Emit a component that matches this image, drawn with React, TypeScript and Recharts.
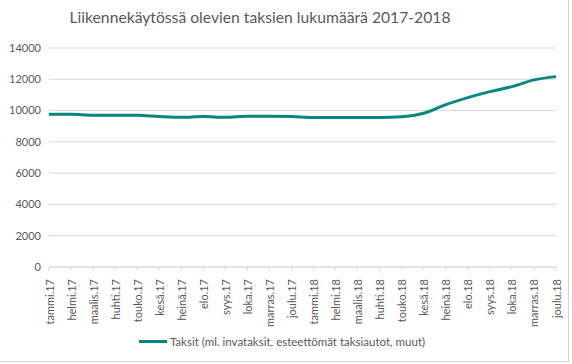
import { LineChart, Line, XAxis, YAxis, CartesianGrid, Legend } from 'recharts'

// monthly labels, 2017-2018
const months = [
  'tammi.17', 'helmi.17', 'maalis.17', 'huhti.17', 'touko.17', 'kesä.17',
  'heinä.17', 'elo.17', 'syys.17', 'loka.17', 'marras.17', 'joulu.17',
  'tammi.18', 'helmi.18', 'maalis.18', 'huhti.18', 'touko.18', 'kesä.18',
  'heinä.18', 'elo.18', 'syys.18', 'loka.18', 'marras.18', 'joulu.18',
]

const taksit = [
  9760, 9760, 9700, 9700, 9700, 9620, 9570, 9620, 9570, 9640, 9640, 9620,
  9560, 9560, 9560, 9560, 9600, 9830, 10380, 10830, 11210, 11530, 11960, 12170,
]

const yTicks = [0, 2000, 4000, 6000, 8000, 10000, 12000, 14000]

const seriesName = 'Taksit (ml. invataksit, esteettömät taksiautot, muut)'
const title = 'Liikennekäytössä olevien taksien lukumäärä 2017-2018'

const data = months.map((m, i) => ({ name: m, [seriesName]: taksit[i] }))

const FONT = 'Lato, "Open Sans", sans-serif'
const TEAL = '#0b8580'
const GREY = '#595959'

const MonthTick = ({ x, y, payload }: any) => (
  <text
    x={x}
    y={y + 6}
    transform={`rotate(-90 ${x} ${y + 6})`}
    textAnchor="end"
    dominantBaseline="central"
    fill={GREY}
    fontSize={11}
    fontFamily={FONT}
  >
    {payload.value}
  </text>
)

const LegendContent = () => (
  <div style={{ display: 'flex', alignItems: 'center', justifyContent: 'center', fontFamily: FONT, fontSize: 11.5, color: GREY }}>
    <span style={{ display: 'inline-block', width: 28, height: 3, background: TEAL, marginRight: 3 }} />
    <span>{seriesName}</span>
  </div>
)

export default function App() {
  return (
    <div style={{ position: 'absolute', left: 0, top: 0, width: 572, height: 364, background: '#fff', overflow: 'hidden' }}>
      <div style={{ position: 'absolute', left: -1, top: -1, width: 570, height: 363, border: '1px solid #d9d9d9', boxSizing: 'border-box' }} />
      <div style={{ position: 'absolute', left: 0, top: 8, width: 520, textAlign: 'center', fontFamily: FONT, fontSize: 15.7, color: GREY }}>
        {title}
      </div>
      <LineChart width={572} height={364} data={data} margin={{ top: 48, right: 16, left: 8, bottom: 15 }}>
        <CartesianGrid vertical={false} stroke="#d9d9d9" />
        <XAxis
          dataKey="name"
          interval={0}
          height={62}
          tick={<MonthTick />}
          tickLine={{ stroke: '#d9d9d9' }}
          axisLine={{ stroke: '#d9d9d9' }}
          tickSize={4}
        />
        <YAxis
          domain={[0, 14000]}
          ticks={yTicks}
          width={41}
          axisLine={false}
          tickLine={false}
          tick={{ fill: GREY, fontSize: 11, fontFamily: FONT }}
        />
        <Legend verticalAlign="bottom" content={<LegendContent />} wrapperStyle={{ bottom: 9, height: 20 }} />
        <Line
          type="monotone"
          dataKey={seriesName}
          stroke={TEAL}
          strokeWidth={3}
          dot={false}
          isAnimationActive={false}
        />
      </LineChart>
    </div>
  )
}
